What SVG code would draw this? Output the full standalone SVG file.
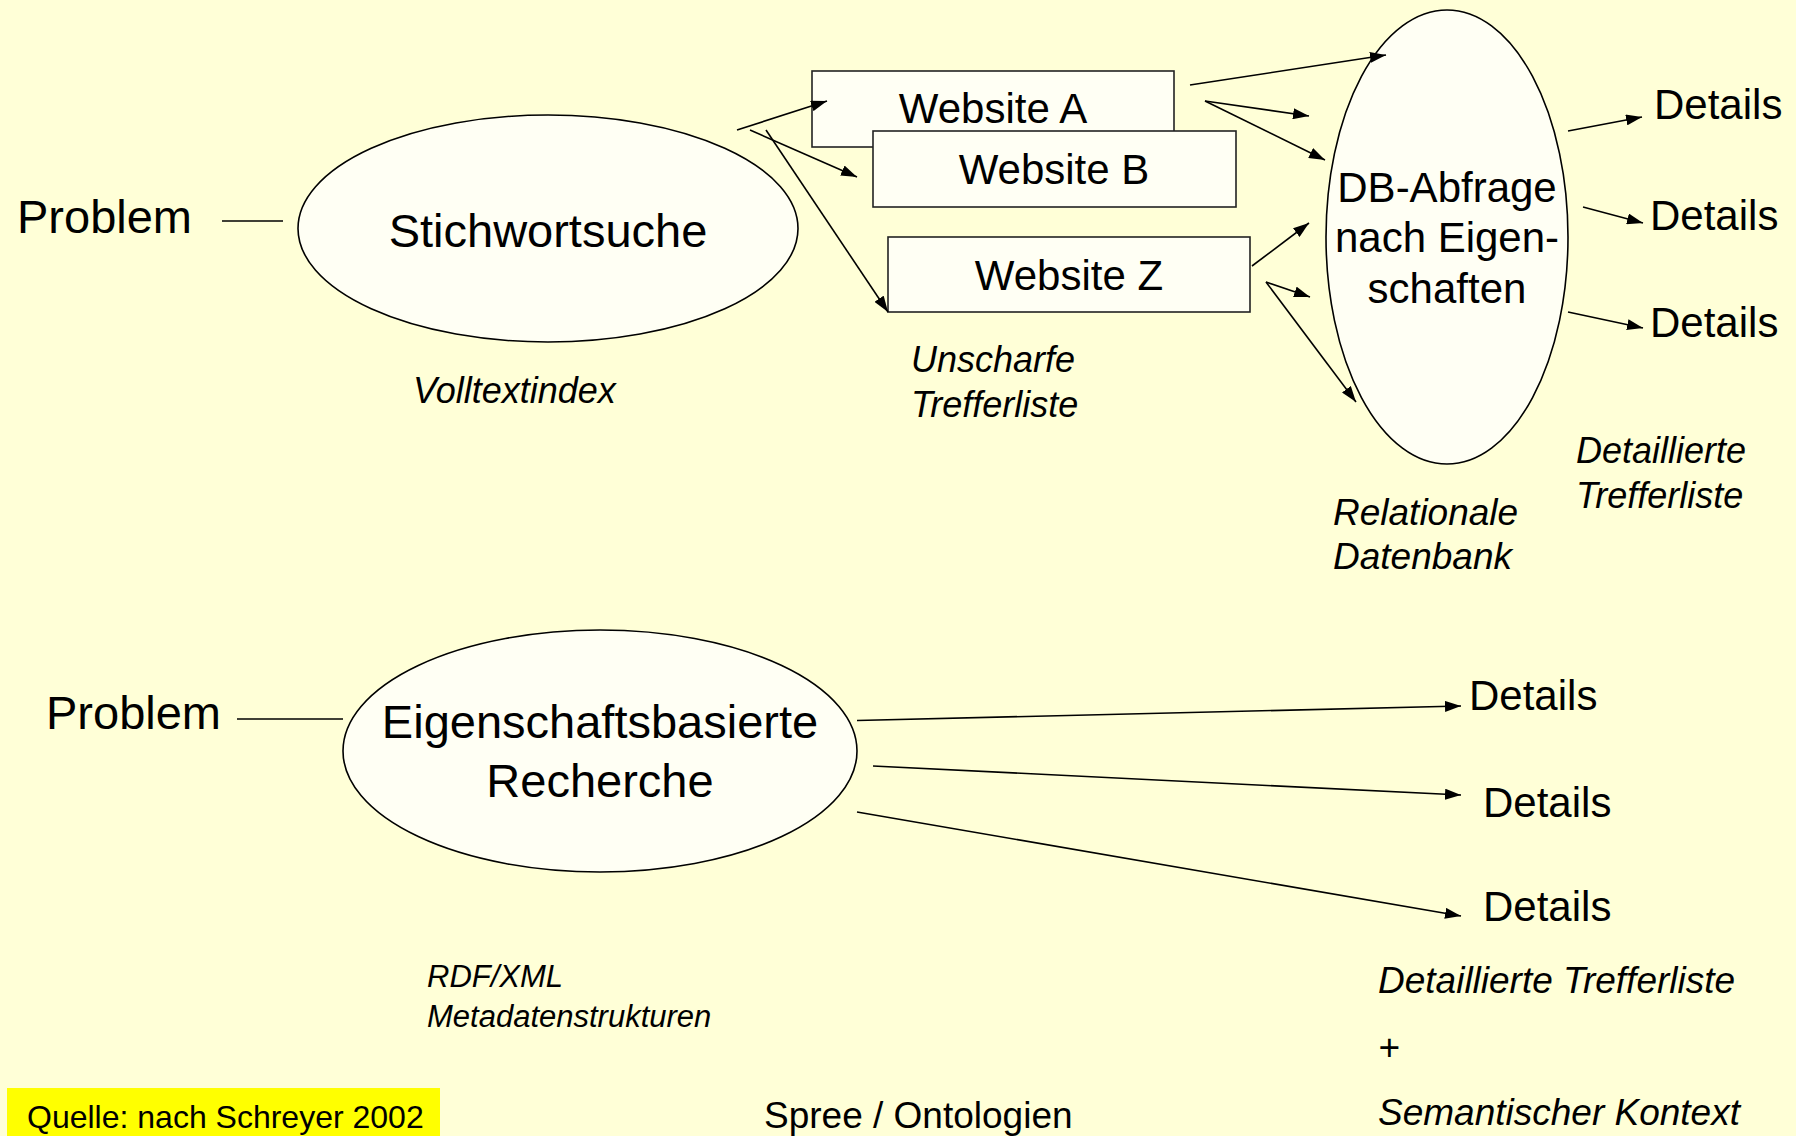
<svg xmlns="http://www.w3.org/2000/svg" width="1796" height="1136" viewBox="0 0 1796 1136">
  <defs>
    <marker id="ah" viewBox="0 0 16 11" refX="16" refY="5.5" markerWidth="16" markerHeight="11" markerUnits="userSpaceOnUse" orient="auto">
      <path d="M0,0 L16,5.5 L0,11 z" fill="#000"/>
    </marker>
    <style>
      text { font-family: "Liberation Sans", Arial, sans-serif; fill: #000; }
      .big { font-size: 47px; }
      .mid { font-size: 42px; }
      .it { font-style: italic; font-size: 36px; }
      .shape { fill: #FFFFF4; stroke: #000; stroke-width: 1.6; }
      .box { fill: #FFFFF4; stroke: #222; stroke-width: 1.6; }
      .c { fill: none; stroke: #000; stroke-width: 1.6; }
      .a { fill: none; stroke: #000; stroke-width: 1.6; marker-end: url(#ah); }
    </style>
  </defs>
  <rect x="0" y="0" width="1796" height="1136" fill="#FFFFD7"/>

  <g id="problem1"><text class="big" x="17" y="233">Problem</text></g>
  <g id="stichwortsuche">
    <ellipse class="shape" cx="548" cy="228.5" rx="250" ry="113.5"/>
    <text class="big" x="548" y="247" text-anchor="middle">Stichwortsuche</text>
  </g>
  <g id="volltextindex"><text class="it" x="413" y="403">Volltextindex</text></g>

  <g id="websiteA">
    <rect class="box" x="812" y="71" width="362" height="76"/>
    <text class="mid" x="993" y="123" text-anchor="middle">Website A</text>
  </g>
  <g id="websiteB">
    <rect class="box" x="873" y="131" width="363" height="76"/>
    <text class="mid" x="1054" y="184" text-anchor="middle">Website B</text>
  </g>
  <g id="websiteZ">
    <rect class="box" x="888" y="237" width="362" height="75"/>
    <text class="mid" x="1069" y="290" text-anchor="middle">Website Z</text>
  </g>
  <g id="unscharfe">
    <text class="it" x="911" y="372">Unscharfe</text>
    <text class="it" x="911" y="417">Trefferliste</text>
  </g>

  <g id="dbabfrage">
    <ellipse class="shape" cx="1447" cy="237" rx="121" ry="227"/>
    <text class="mid" x="1447" y="202" text-anchor="middle">DB-Abfrage</text>
    <text class="mid" x="1447" y="252" text-anchor="middle">nach Eigen-</text>
    <text class="mid" x="1447" y="303" text-anchor="middle">schaften</text>
  </g>
  <g id="details1"><text class="mid" x="1654" y="119">Details</text></g>
  <g id="details2"><text class="mid" x="1650" y="230">Details</text></g>
  <g id="details3"><text class="mid" x="1650" y="337">Details</text></g>
  <g id="detailliert1">
    <text class="it" x="1576" y="463">Detaillierte</text>
    <text class="it" x="1576" y="508">Trefferliste</text>
  </g>
  <g id="relationale">
    <text class="it" x="1333" y="525" style="font-size:37px">Relationale</text>
    <text class="it" x="1333" y="569" style="font-size:37px">Datenbank</text>
  </g>

  <g id="problem2"><text class="big" x="46" y="729">Problem</text></g>
  <g id="eigenschaftsbasiert">
    <ellipse class="shape" cx="600" cy="751" rx="257" ry="121"/>
    <text class="big" x="600" y="738" text-anchor="middle">Eigenschaftsbasierte</text>
    <text class="big" x="600" y="797" text-anchor="middle">Recherche</text>
  </g>
  <g id="details4"><text class="mid" x="1469" y="710">Details</text></g>
  <g id="details5"><text class="mid" x="1483" y="817">Details</text></g>
  <g id="details6"><text class="mid" x="1483" y="921">Details</text></g>
  <g id="rdfxml">
    <text class="it" x="427" y="987" style="font-size:31px">RDF/XML</text>
    <text class="it" x="427" y="1027" style="font-size:31px">Metadatenstrukturen</text>
  </g>
  <g id="detailliert2">
    <text class="it" x="1378" y="993" style="font-size:37px">Detaillierte Trefferliste</text>
    <text class="it" x="1378" y="1060" style="font-size:37px">+</text>
    <text class="it" x="1378" y="1125" style="font-size:37px">Semantischer Kontext</text>
  </g>
  <g id="quelle">
    <rect x="7" y="1088" width="433" height="48" fill="#FFFF00"/>
    <text x="27" y="1128" style="font-size:32px">Quelle: nach Schreyer 2002</text>
  </g>
  <g id="spree"><text x="764" y="1128" style="font-size:37px">Spree / Ontologien</text></g>

  <g id="connectors">
    <line class="c" x1="222" y1="221" x2="283" y2="221"/>
    <line class="a" x1="737" y1="130" x2="827" y2="101"/>
    <line class="a" x1="750" y1="130" x2="857" y2="177"/>
    <line class="a" x1="766" y1="130" x2="888" y2="312"/>
    <line class="a" x1="1190" y1="85" x2="1386" y2="55"/>
    <line class="a" x1="1205" y1="101" x2="1309" y2="116"/>
    <line class="a" x1="1205" y1="101" x2="1325" y2="160"/>
    <line class="a" x1="1252" y1="266" x2="1309" y2="223"/>
    <line class="a" x1="1266" y1="282" x2="1310" y2="297"/>
    <line class="a" x1="1266" y1="282" x2="1356" y2="402"/>
    <line class="a" x1="1568" y1="131" x2="1642" y2="117"/>
    <line class="a" x1="1583" y1="207" x2="1643" y2="223"/>
    <line class="a" x1="1568" y1="312" x2="1643" y2="328"/>
    <line class="c" x1="237" y1="719" x2="343" y2="719"/>
    <line class="a" x1="857" y1="720.5" x2="1461" y2="706"/>
    <line class="a" x1="873" y1="766" x2="1461" y2="795"/>
    <line class="a" x1="857" y1="812" x2="1461" y2="916"/>
  </g>
</svg>
